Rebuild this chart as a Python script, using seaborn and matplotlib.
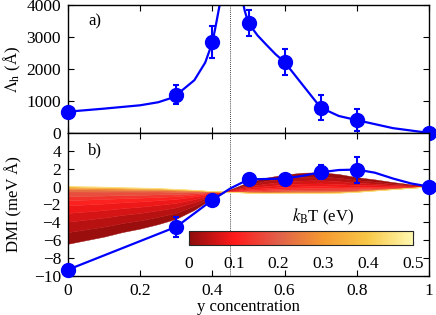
import numpy as np
import pandas as pd
import matplotlib
matplotlib.use("Agg")
import matplotlib.pyplot as plt
import seaborn as sns
from matplotlib.colors import LinearSegmentedColormap, Normalize
from matplotlib.cm import ScalarMappable

# top panel: helix length
conc = [0.0, 0.3, 0.4, 0.5, 0.6, 0.7, 0.8, 1.0]
lam = [665, 1190, 2830, 3430, 2215, 790, 400, 0]
lam_err = [0, 300, 500, 400, 400, 400, 340, 0]
# guide curve (two branches around the divergence)
lam_left_x = [0.0, 0.1, 0.2, 0.25, 0.28, 0.3, 0.32, 0.35, 0.38, 0.4, 0.41, 0.42, 0.425]
lam_left_y = [665, 760, 865, 960, 1070, 1190, 1370, 1650, 2200, 2830, 3400, 4000, 4400]
lam_right_x = [0.48, 0.49, 0.5, 0.525, 0.55, 0.575, 0.6, 0.65, 0.7, 0.75, 0.8, 0.9, 1.0]
lam_right_y = [4300, 3800, 3430, 3050, 2750, 2460, 2215, 1500, 790, 530, 400, 150, 0]

# bottom panel: DMI
dmi = [-9.3, -4.5, -1.5, 0.8, 0.85, 1.6, 1.9, 0.0]
dmi_err = [0, 1.1, 0, 0, 0, 0.8, 1.45, 0]
dmi_line_x = [0.0, 0.3, 0.4, 0.45, 0.5, 0.55, 0.6, 0.65, 0.7, 0.75, 0.8, 0.85, 0.9, 0.95, 1.0]
dmi_line_y = [-9.3, -4.5, -1.5, -0.2, 0.8, 0.85, 0.9, 1.2, 1.6, 1.85, 1.9, 1.55, 0.9, 0.35, 0.0]

# finite temperature DMI family
grid_x = [0, .05, .1, .15, .2, .25, .3, .35, .4, .45, .5, .55, .6, .65, .7, .75, .8, .85, .9, .95, 1]
dmi_cold = [-6.4, -6.0, -5.6, -5.1, -4.7, -4.2, -3.6, -2.6, -1.3, -0.3, 0.5, 1.0, 1.35, 1.55,
            1.6, 1.4, 1.05, 0.8, 0.5, 0.25, 0.0]
dmi_hot = [0.1, 0.05, 0.0, -0.05, -0.1, -0.15, -0.25, -0.35, -0.5, -0.6, -0.7, -0.75, -0.75,
           -0.75, -0.75, -0.7, -0.6, -0.45, -0.3, -0.15, 0.0]
kT = [0, 0.025, 0.05, 0.075, 0.1, 0.125, 0.15, 0.2, 0.25, 0.3, 0.4, 0.5]
kT_frac = [1, 0.8, 0.62, 0.47, 0.34, 0.25, 0.18, 0.1, 0.06, 0.035, 0.012, 0]

sns.set_style("ticks")
plt.rcParams['font.family'] = ['Liberation Serif', 'DejaVu Serif']
plt.rcParams['mathtext.fontset'] = 'stix'
plt.rcParams['font.size'] = 12
plt.rcParams['xtick.labelsize'] = 12.5
plt.rcParams['ytick.labelsize'] = 12.5
plt.rcParams['text.color'] = 'black'
plt.rcParams['axes.labelcolor'] = 'black'
plt.rcParams['xtick.color'] = 'black'
plt.rcParams['ytick.color'] = 'black'

cmap = LinearSegmentedColormap.from_list("kt", [
    (0.0, "#8e0c0c"), (0.2, "#ff1a1a"), (0.4, "#e0604a"),
    (0.6, "#f59a30"), (0.8, "#f8c848"), (1.0, "#fff8b0")])
norm = Normalize(0, 0.5)

fig = plt.figure(figsize=(4.36, 3.15), dpi=100)
ax1 = fig.add_axes([0.156, 0.578, 0.828, 0.406])
ax2 = fig.add_axes([0.156, 0.124, 0.828, 0.454])

blue = "#0000ff"
sns.lineplot(x=lam_left_x, y=lam_left_y, ax=ax1, color=blue, lw=1.6, sort=False)
sns.lineplot(x=lam_right_x, y=lam_right_y, ax=ax1, color=blue, lw=1.6, sort=False)
ax1.errorbar(conc, lam, yerr=lam_err, fmt="o", color=blue, ms=10, elinewidth=1.5,
             capsize=2.5, capthick=1.5, clip_on=False, zorder=5)
ax1.set_xlim(0, 1)
ax1.set_ylim(0, 4000)
ax1.set_yticks([0, 1000, 2000, 3000, 4000])
ax1.set_xticks(np.arange(0, 1.01, 0.2))
ax1.tick_params(labelbottom=False)
ax1.set_ylabel(r"$\Lambda_\mathrm{h}$ (Å)")
ax1.yaxis.set_label_coords(-0.125, 0.5)
ax1.text(0.075, 0.87, "a)", transform=ax1.transAxes, ha="center", va="center")

# colour bands between the kT curves
cold = np.array(dmi_cold)
hot = np.array(dmi_hot)
for i in range(len(kT) - 1):
    c = cmap(norm(0.5 * (kT[i] + kT[i + 1])))
    lo = hot + kT_frac[i] * (cold - hot)
    hi = hot + kT_frac[i + 1] * (cold - hot)
    ax2.fill_between(grid_x, lo, hi, color=c, lw=0.3, edgecolor=c, zorder=1)

sns.lineplot(x=dmi_line_x, y=dmi_line_y, ax=ax2, color=blue, lw=1.6, sort=False, zorder=3)
ax2.errorbar(conc, dmi, yerr=dmi_err, fmt="o", color=blue, ms=10, elinewidth=1.5,
             capsize=2.5, capthick=1.5, clip_on=False, zorder=5)
ax2.set_xlim(0, 1)
ax2.set_ylim(-10, 6)
ax2.set_yticks(np.arange(-10, 5, 2))
ax2.set_xticks(np.arange(0, 1.01, 0.2))
ax2.set_xticklabels(["0", "0.2", "0.4", "0.6", "0.8", "1"])
ax2.set_xlabel("y concentration", labelpad=0)
ax2.set_ylabel("DMI (meV Å)")
ax2.yaxis.set_label_coords(-0.125, 0.5)
ax2.text(0.075, 0.88, "b)", transform=ax2.transAxes, ha="center", va="center")

for ax in (ax1, ax2):
    ax.axvline(0.45, color="black", ls=(0, (1, 1.5)), lw=0.6, zorder=0)
    ax.tick_params(direction="in", top=True, right=True, length=4, width=0.8, pad=5)
    for s in ax.spines.values():
        s.set_linewidth(1.0)
        s.set_color("black")

cax = fig.add_axes([0.4335, 0.222, 0.514, 0.044])
cb = fig.colorbar(ScalarMappable(norm=norm, cmap=cmap), cax=cax, orientation="horizontal")
cb.set_ticks([0, 0.1, 0.2, 0.3, 0.4, 0.5])
cb.set_ticklabels(["0", "0.1", "0.2", "0.3", "0.4", "0.5"])
cax.tick_params(direction="in", top=True, bottom=True, length=3, width=0.8, pad=8)
cb.outline.set_linewidth(0.8)
fig.text(323 / 436, 1 - 217 / 315, r"$k_\mathrm{B}$T (eV)", ha="center", va="center")

fig.savefig("out.png", dpi=100)
